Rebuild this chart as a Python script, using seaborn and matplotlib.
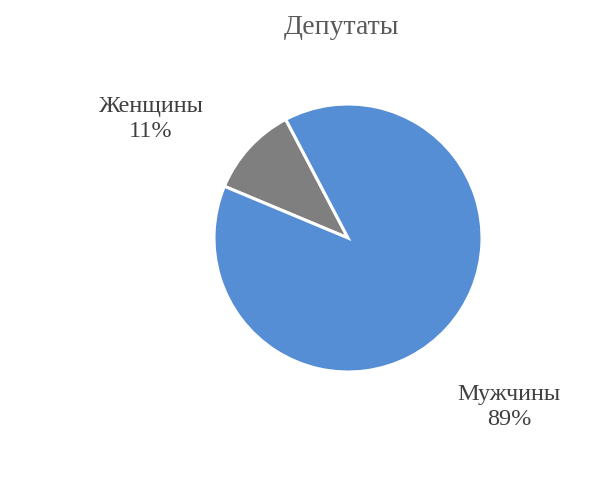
import matplotlib
matplotlib.use("Agg")
import matplotlib.pyplot as plt
import seaborn as sns

# data
categories = ["Женщины", "Мужчины"]
shares = [11, 89]
slice_colors = ["#7f7f7f", "#558ed5"]
title = "Депутаты"

sns.set_style("white")
plt.rcParams["font.family"] = ["Liberation Serif", "DejaVu Serif"]

W, H = 598, 499
fig = plt.figure(figsize=(W / 100, H / 100), dpi=100)

# pie area: centre ~(348, 238) px, radius ~134 px
cx, cy, r = 348, 238, 134
ax = fig.add_axes([(cx - r) / W, 1 - (cy + r) / H, 2 * r / W, 2 * r / H])
wedges, _ = ax.pie(
    shares,
    colors=slice_colors,
    startangle=117.7,
    counterclock=True,
    radius=1,
    wedgeprops={"edgecolor": "white", "linewidth": 2.2},
)
for w in wedges:
    w.set_clip_on(False)
ax.set_xlim(-1, 1)
ax.set_ylim(-1, 1)
ax.set_aspect("equal")
ax.axis("off")

fig.text(341 / W, 1 - 27 / H, title, ha="center", va="center",
         fontsize=20, color="#595959")

label_pos = {"Женщины": (151, 119), "Мужчины": (509, 407)}
for name, val in zip(categories, shares):
    x, y = label_pos[name]
    fig.text(x / W, 1 - y / H, f"{name}\n{val}%", ha="center", va="center",
             fontsize=17.5, color="#404040", linespacing=1.3)

fig.savefig("out.png", dpi=100)
